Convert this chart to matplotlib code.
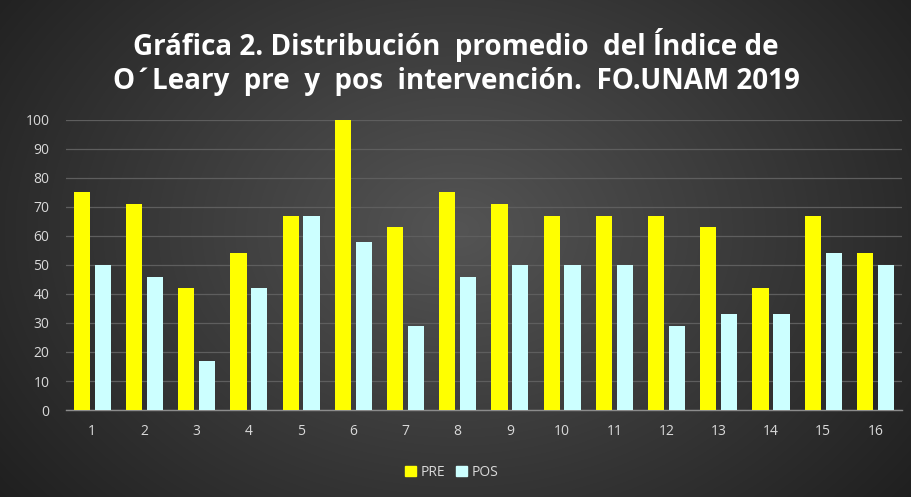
import numpy as np
import matplotlib
matplotlib.use("Agg")
import matplotlib.pyplot as plt
from matplotlib.patches import Patch

categories = [str(i) for i in range(1, 17)]
pre = [75, 71, 42, 54, 67, 100, 63, 75, 71, 67, 67, 67, 63, 42, 67, 54]
pos = [50, 46, 17, 42, 67, 58, 29, 46, 50, 50, 50, 29, 33, 33, 54, 50]
yticks = list(range(0, 101, 10))
title = "Gráfica 2. Distribución  promedio  del Índice de\nO´Leary  pre  y  pos  intervención.  FO.UNAM 2019"

plt.rcParams['font.family'] = ['Open Sans', 'DejaVu Sans']

fig = plt.figure(figsize=(9.12, 4.97), dpi=100)

# radial gradient background
bg = fig.add_axes([0, 0, 1, 1], zorder=0)
yy, xx = np.mgrid[0:497, 0:912]
cx, cy = 456, 230
r = np.sqrt(((xx - cx) / 560.0) ** 2 + ((yy - cy) / 420.0) ** 2)
v = 0.33 - 0.20 * np.clip(r, 0, 1.2)
img = np.dstack([v, v, v])
bg.imshow(img, aspect='auto', extent=[0, 1, 0, 1])
bg.set_axis_off()

ax = fig.add_axes([0.0725, 0.175, 0.916, 0.584], zorder=1)
ax.patch.set_alpha(0)
x = np.arange(len(categories))
w = 0.31
ax.bar(x - 0.2, pre, width=w, color='#FFFF00', zorder=3, label='PRE')
ax.bar(x + 0.2, pos, width=w, color='#CCFFFF', zorder=3, label='POS')
ax.set_xlim(-0.5, len(categories) - 0.5)
ax.set_ylim(0, 100)
ax.set_yticks(yticks)
ax.set_xticks(x)
ax.set_xticklabels(categories)
ax.grid(axis='y', color='#5e5e5e', linewidth=0.9, zorder=0)
for s in ['top', 'right', 'left']:
    ax.spines[s].set_visible(False)
ax.spines['bottom'].set_color('#8c8c8c')
ax.spines['bottom'].set_linewidth(1.0)
ax.tick_params(axis='both', length=0, colors='#d9d9d9', labelsize=10)
ax.tick_params(axis='x', pad=10)
ax.tick_params(axis='y', pad=12)

fig.text(0.5, 0.875, title, ha='center', va='center', color='white',
         fontsize=20, fontweight='bold', linespacing=1.25)

handles = [Patch(color='#FFFF00', label='PRE'), Patch(color='#CCFFFF', label='POS')]
fig.legend(handles=handles, loc='center', bbox_to_anchor=(0.495, 0.05), ncol=2,
           frameon=False, labelcolor='#d9d9d9', fontsize=10, handlelength=0.8,
           handleheight=0.8, handletextpad=0.3, columnspacing=0.8)

fig.savefig('out.png', dpi=100)
